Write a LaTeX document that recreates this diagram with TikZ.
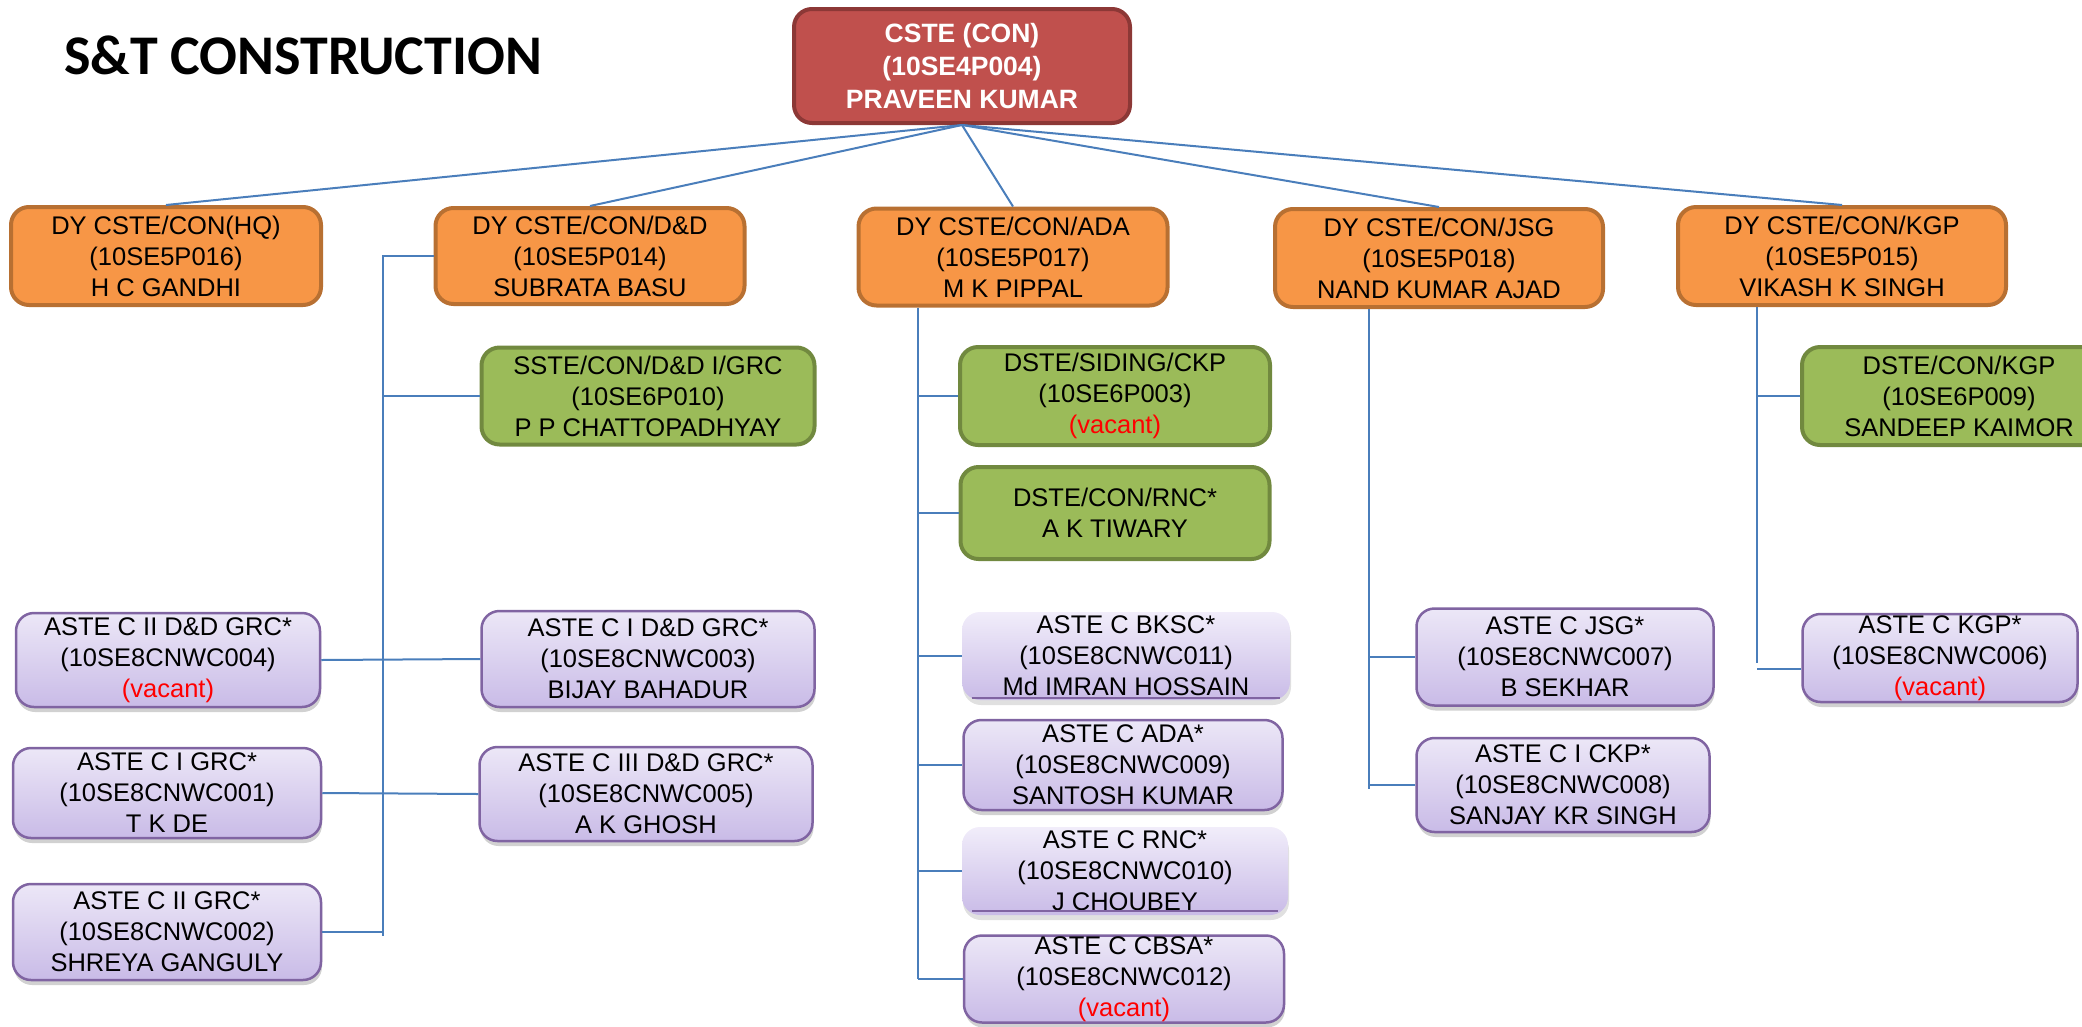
\documentclass[tikz,border=0pt]{standalone}
\usepackage{fontspec}
\setmainfont{Liberation Sans}
\newfontfamily\titlefont{Carlito}
\usetikzlibrary{shadows,calc}
\definecolor{redfill}{RGB}{192,80,77}
\definecolor{redline}{RGB}{140,56,54}
\definecolor{orfill}{RGB}{247,150,70}
\definecolor{orline}{RGB}{184,112,50}
\definecolor{grfill}{RGB}{155,187,89}
\definecolor{grline}{RGB}{113,137,63}
\definecolor{lavtop}{RGB}{236,231,247}
\definecolor{lavtopsoft}{RGB}{241,237,250}
\definecolor{lavbot}{RGB}{201,187,231}
\definecolor{lavline}{RGB}{128,100,162}
\definecolor{connblue}{RGB}{74,126,187}
\definecolor{vacred}{RGB}{255,0,0}
\newcommand{\vacantlbl}{\textcolor{vacred}{(vacant)}}
\tikzset{
  base/.style={rounded corners=18pt, align=center, inner sep=0pt, text=black,
    font=\fontsize{25.5}{31}\selectfont},
  bx/.style 2 args={minimum width=#1pt, minimum height=#2pt},
  redbox/.style={base, fill=redfill, draw=redline, line width=4pt, text=white,
    font=\bfseries\fontsize{26.5}{33}\selectfont},
  orbox/.style={base, fill=orfill, draw=orline, line width=4pt},
  grbox/.style={base, fill=grfill, draw=grline, line width=4pt},
  lavbox/.style={base, top color=lavtop, bottom color=lavbot, draw=lavline, line width=2.5pt,
    drop shadow={shadow xshift=1pt, shadow yshift=-5pt, fill=black, opacity=0.18}},
  lavsoft/.style={base, top color=lavtopsoft, bottom color=lavbot, draw=none,
    drop shadow={shadow xshift=1pt, shadow yshift=-5pt, fill=black, opacity=0.12}},
  underln/.style={draw=lavline, line width=2.5pt},
  conn/.style={draw=connblue, line width=2pt},
  titlestyle/.style={anchor=base west, inner sep=0pt, font=\titlefont\bfseries\fontsize{56}{60}\selectfont}
}
\begin{document}
\begin{tikzpicture}[x=1pt,y=-1pt]
\useasboundingbox (0,0) rectangle (2082,1026);
\clip (0,0) rectangle (2082,1026);

\node[titlestyle] (title) at (64,74) {S\&T CONSTRUCTION};

% top
\node[redbox, bx={336}{114}] (cste) at (962,66) {CSTE (CON)\\(10SE4P004)\\PRAVEEN KUMAR};

% DY level
\node[orbox, bx={310}{98}] (hq)  at (166,256)  {DY CSTE/CON(HQ)\\(10SE5P016)\\H C GANDHI};
\node[orbox, bx={309}{96}] (dd)  at (590,256)  {DY CSTE/CON/D\&D\\(10SE5P014)\\SUBRATA BASU};
\node[orbox, bx={309}{97}] (ada) at (1013,257) {DY CSTE/CON/ADA\\(10SE5P017)\\M K PIPPAL};
\node[orbox, bx={328}{98}] (jsg) at (1439,258) {DY CSTE/CON/JSG\\(10SE5P018)\\NAND KUMAR AJAD};
\node[orbox, bx={328}{98}] (kgp) at (1842,256) {DY CSTE/CON/KGP\\(10SE5P015)\\VIKASH K SINGH};

% green level
\node[grbox, bx={333}{97}] (sste)   at (648,396)  {SSTE/CON/D\&D I/GRC\\(10SE6P010)\\P P CHATTOPADHYAY};
\node[grbox, bx={310}{98}] (siding) at (1115,396) {DSTE/SIDING/CKP\\(10SE6P003)\\\vacantlbl};
\node[grbox, bx={309}{92}] (dstrnc) at (1115,513) {DSTE/CON/RNC*\\A K TIWARY};
\node[grbox, bx={314}{98}] (dstkgp) at (1959,396) {DSTE/CON/KGP\\(10SE6P009)\\SANDEEP KAIMOR};

% ASTE level, D&D / GRC
\node[lavbox, bx={304}{94}] (a004) at (168,660) {ASTE C II D\&D GRC*\\(10SE8CNWC004)\\\vacantlbl};
\node[lavbox, bx={333}{96}] (a003) at (648,659) {ASTE C I D\&D GRC*\\(10SE8CNWC003)\\BIJAY BAHADUR};
\node[lavbox, bx={308}{90}] (a001) at (167,793) {ASTE C I GRC*\\(10SE8CNWC001)\\T K DE};
\node[lavbox, bx={333}{94}] (a005) at (646,794) {ASTE C III D\&D GRC*\\(10SE8CNWC005)\\A K GHOSH};
\node[lavbox, bx={308}{96}] (a002) at (167,932) {ASTE C II GRC*\\(10SE8CNWC002)\\SHREYA GANGULY};

% ASTE level, ADA
\node[lavsoft, bx={328}{88}] (a011) at (1126,656) {ASTE C BKSC*\\(10SE8CNWC011)\\Md IMRAN HOSSAIN};
\node[lavbox,  bx={319}{90}] (a009) at (1123,765) {ASTE C ADA*\\(10SE8CNWC009)\\SANTOSH KUMAR};
\node[lavsoft, bx={326}{88}] (a010) at (1125,871) {ASTE C RNC*\\(10SE8CNWC010)\\J CHOUBEY};
\node[lavbox,  bx={320}{87}] (a012) at (1124,979) {ASTE C CBSA*\\(10SE8CNWC012)\\\vacantlbl};

% ASTE level, JSG / KGP
\node[lavbox, bx={297}{97}] (a007) at (1565,657) {ASTE C JSG*\\(10SE8CNWC007)\\B SEKHAR};
\node[lavbox, bx={293}{94}] (a008) at (1563,785) {ASTE C I CKP*\\(10SE8CNWC008)\\SANJAY KR SINGH};
\node[lavbox, bx={275}{88}] (a006) at (1940,658) {ASTE C KGP*\\(10SE8CNWC006)\\\vacantlbl};

% underlines of the soft boxes
\draw[underln] ([xshift=10pt,yshift=2pt]a011.south west) -- ([xshift=-10pt,yshift=2pt]a011.south east);
\draw[underln] ([xshift=10pt,yshift=4pt]a010.south west) -- ([xshift=-10pt,yshift=4pt]a010.south east);

% CSTE to DY
\foreach \n in {hq,dd,ada,jsg,kgp} \draw[conn] (cste.south) -- (\n.north);

% D&D bracket
\coordinate (ddtop) at (383,256);
\coordinate (ddbot) at (383,936);
\draw[conn] (dd.west) -- (ddtop) -- (ddbot);
\draw[conn] (sste.west) -- (sste.west -| ddtop);
\draw[conn] (a004.east) -- (a003.west);
\draw[conn] (a001.east) -- (a005.west);
\draw[conn] (a002.east) -- (a002.east -| ddtop);

% ADA bracket
\coordinate (adabot) at (918,979);
\draw[conn] (ada.south -| adabot) -- (adabot);
\foreach \n in {siding,dstrnc,a011,a009,a010,a012} \draw[conn] (\n.west -| adabot) -- (\n.west);

% JSG bracket
\coordinate (jsgbot) at (1369,789);
\draw[conn] (jsg.south -| jsgbot) -- (jsgbot);
\foreach \n in {a007,a008} \draw[conn] (\n.west -| jsgbot) -- (\n.west);

% KGP bracket
\coordinate (kgpbot) at (1757,663);
\coordinate (a006in) at ([yshift=-11pt]a006.west);
\draw[conn] (kgp.south -| kgpbot) -- (kgpbot);
\draw[conn] (dstkgp.west -| kgpbot) -- (dstkgp.west);
\draw[conn] (a006in -| kgpbot) -- (a006in);
\end{tikzpicture}
\end{document}
